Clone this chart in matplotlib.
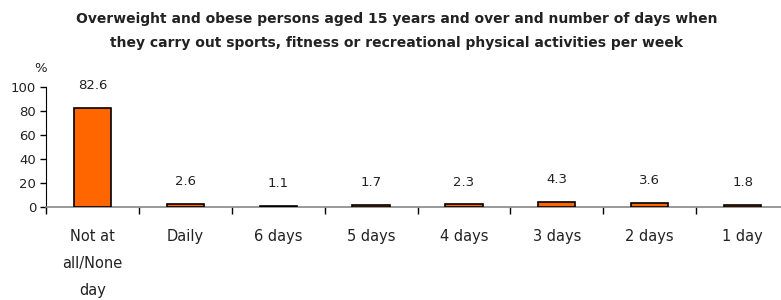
import matplotlib.pyplot as plt
import numpy as np

# data
categories = ["Not at\nall/None\nday", "Daily", "6 days", "5 days", "4 days", "3 days", "2 days", "1 day"]
values = [82.6, 2.6, 1.1, 1.7, 2.3, 4.3, 3.6, 1.8]
yticks = [0, 20, 40, 60, 80, 100]

title = ("Overweight and obese persons aged 15 years and over and number of days when\n"
         "they carry out sports, fitness or recreational physical activities per week")

plt.rcParams['font.family'] = ['DejaVu Sans']

W, H = 781, 300
fig = plt.figure(figsize=(W / 100, H / 100), dpi=100)
# axes placed in pixel terms: left 46, right 789 (cropped by the figure), top 87, bottom 207
ax = fig.add_axes([46 / W, (H - 207) / H, (789 - 46) / W, (207 - 87) / H])

x = np.arange(len(categories))
ax.bar(x, values, width=0.4, color="#FF6600", edgecolor="black", linewidth=1.2, zorder=3)

for xi, v in zip(x, values):
    ax.annotate(f"{v:.1f}", (xi, v), xytext=(0, 16), textcoords="offset points",
                ha="center", va="center", fontsize=9.5, color="#222222")

ax.set_xlim(-0.5, len(categories) - 0.5)
ax.set_ylim(0, 100)
ax.set_yticks(yticks)
ax.tick_params(axis="y", labelsize=9.5, length=4, width=1, pad=3, colors="black")
for lbl in ax.get_yticklabels():
    lbl.set_color("#222222")

# category ticks sit at the boundaries
ax.set_xticks(np.arange(len(categories) + 1) - 0.5)
ax.set_xticklabels([])
ax.set_xticks(x, minor=True)
ax.set_xticklabels(categories, minor=True, fontsize=10.5, linespacing=2.0, color="#222222")
ax.tick_params(axis="x", which="major", length=5, width=1, color="black")
ax.tick_params(axis="x", which="minor", length=0, pad=16)

for s in ["top", "right"]:
    ax.spines[s].set_visible(False)
ax.spines["left"].set_color("black")
ax.spines["bottom"].set_color("#888888")
ax.spines["bottom"].set_linewidth(1.2)

fig.text(41 / W, (H - 69) / H, "%", ha="center", va="center", fontsize=9.5, color="#222222")
fig.text(397 / W, (H - 31) / H, title, ha="center", va="center", fontsize=10,
         fontweight="bold", linespacing=2.0, color="#222222")

fig.savefig("out.png", dpi=100)
